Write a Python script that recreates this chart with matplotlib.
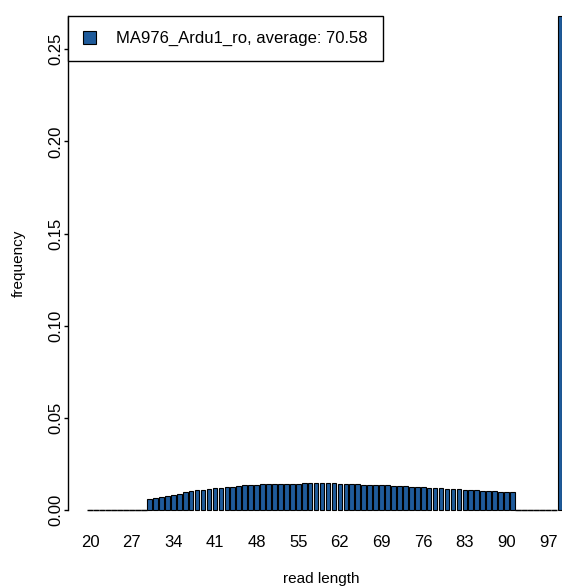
import matplotlib
matplotlib.use("Agg")
import matplotlib.pyplot as plt
import numpy as np

plt.rcParams['font.family'] = ['Liberation Sans', 'DejaVu Sans']

# read length distribution (frequency per read length)
lengths = list(range(20, 100))
freq_mid = [0.0060, 0.0066, 0.0072, 0.0078, 0.0083, 0.0089, 0.0095, 0.0101, 0.0107, 0.0111,
            0.0115, 0.0118, 0.0121, 0.0124, 0.0127, 0.0130, 0.0133, 0.0136, 0.0138, 0.0140,
            0.0141, 0.0141, 0.0141, 0.0140, 0.0140, 0.0141, 0.0146, 0.0149, 0.0148, 0.0147,
            0.0146, 0.0145, 0.0143, 0.0142, 0.0141, 0.0139, 0.0138, 0.0137, 0.0135, 0.0134,
            0.0133, 0.0131, 0.0130, 0.0128, 0.0126, 0.0125, 0.0123, 0.0121, 0.0120, 0.0118,
            0.0116, 0.0114, 0.0112, 0.0110, 0.0108, 0.0107, 0.0105, 0.0104, 0.0102, 0.0100,
            0.0098, 0.0096]  # lengths 30..91
freq = [0.0] * 10 + freq_mid + [0.0] * 7 + [0.268]
tick_labels = list(range(20, 98, 7))
sample = "MA976_Ardu1_ro"
average = 70.58

W, H = 562, 588
fig = plt.figure(figsize=(W / 100, H / 100), dpi=100)
# axes in pixel coords: left spine x=68, y=0 at 510, top at 16
x0, x1 = 68, 575
ax = fig.add_axes([x0 / W, (H - 510) / H, (x1 - x0) / W, (510 - 16) / H])

px_per_unit = 5.95
ax.set_xlim(20 - (90 - x0) / px_per_unit, 20 + (x1 - 90) / px_per_unit)
ax.set_ylim(0, 0.268)

bw = 0.78
bars = ax.bar(lengths, freq, width=bw, color='#1f5b9b', edgecolor='black', linewidth=0.8,
              label='%s, average: %.2f' % (sample, average))
for b in bars:
    b.set_clip_on(False)
# zero-height bars show up as flat lines in the original
zero_x = np.array([l for l, f in zip(lengths, freq) if f == 0])
ax.hlines(np.zeros(len(zero_x)), zero_x - 0.5, zero_x + 0.5, color='black',
          linewidth=1.0, clip_on=False)

for s in ['top', 'right', 'bottom']:
    ax.spines[s].set_visible(False)
ax.spines['left'].set_linewidth(1.0)

ax.set_yticks([0.0, 0.05, 0.10, 0.15, 0.20, 0.25])
ax.set_yticklabels(['0.00', '0.05', '0.10', '0.15', '0.20', '0.25'],
                   rotation=90, va='center', fontsize=12)
ax.tick_params(axis='y', length=3, width=1.0, pad=0.5)
ax.set_xticks(tick_labels)
ax.set_xticklabels([str(t) for t in tick_labels], fontsize=12)
ax.tick_params(axis='x', length=0, pad=18)

ax.set_xlabel('read length', fontsize=11, labelpad=16)
ax.set_ylabel('frequency', fontsize=11, labelpad=16)

leg = ax.legend(loc='upper left', bbox_to_anchor=(0, 1), borderaxespad=0,
                fancybox=False, edgecolor='black', framealpha=1, fontsize=12,
                handlelength=0.8, handleheight=0.8, borderpad=0.9, handletextpad=1.2)
leg.get_frame().set_linewidth(1.0)

fig.savefig('out.png', dpi=100)
